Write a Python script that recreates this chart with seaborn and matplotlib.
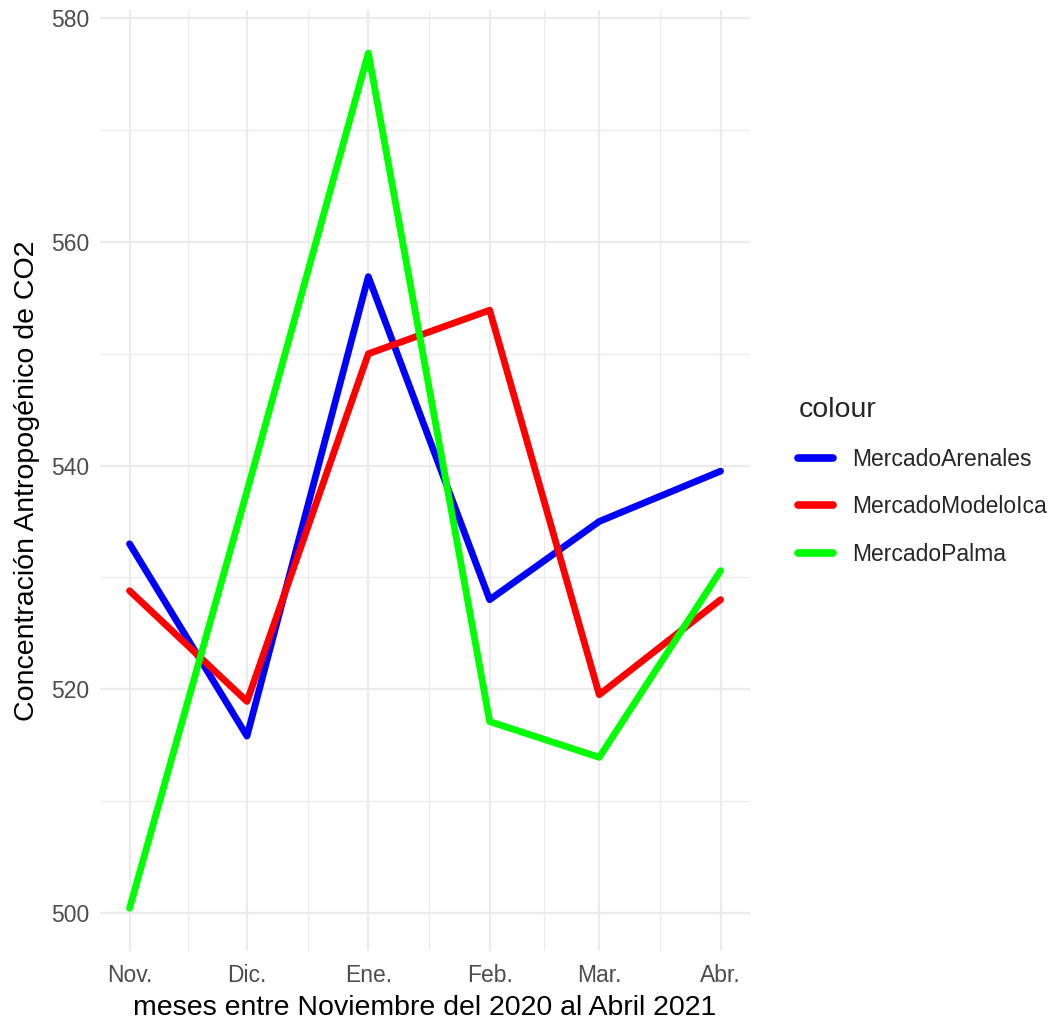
import matplotlib
matplotlib.use("Agg")
import matplotlib.pyplot as plt
import matplotlib.dates as mdates
from matplotlib.ticker import FixedLocator
from matplotlib.lines import Line2D
import seaborn as sns
import pandas as pd
import numpy as np

months = ["2020-11-01", "2020-12-01", "2021-01-01", "2021-02-01", "2021-03-01", "2021-04-01"]
month_labels = ["Nov.", "Dic.", "Ene.", "Feb.", "Mar.", "Abr."]
arenales = [533.0, 515.8, 556.9, 528.0, 535.0, 539.5]
modeloica = [528.8, 518.9, 550.0, 553.9, 519.5, 528.0]
palma = [500.4, 537.7, 576.9, 517.1, 513.9, 530.6]
series_names = ["MercadoArenales", "MercadoModeloIca", "MercadoPalma"]
series_colors = ["#0000FF", "#FF0000", "#00FF00"]

dates = pd.to_datetime(months)
df = pd.DataFrame({
    "fecha": np.concatenate([dates, dates, dates]),
    "valor": arenales + modeloica + palma,
    "colour": np.repeat(series_names, len(months)),
})

sns.set_theme(style="whitegrid")
plt.rcParams["font.family"] = ["Liberation Sans", "DejaVu Sans"]

fig = plt.figure(figsize=(10.64, 10.29), dpi=100)
ax = fig.add_axes([0.094, 0.0758, 0.611, 0.9142])

sns.lineplot(data=df, x="fecha", y="valor", hue="colour", hue_order=series_names,
             palette=dict(zip(series_names, series_colors)), linewidth=4.9, ax=ax,
             legend=False)

xnum = mdates.date2num(dates)
span = xnum[-1] - xnum[0]
ax.set_xlim(xnum[0] - 0.05 * span, xnum[-1] + 0.05 * span)
ymin, ymax = min(palma), max(palma)
yr = ymax - ymin
ax.set_ylim(ymin - 0.05 * yr, ymax + 0.05 * yr)

ax.xaxis.set_major_locator(FixedLocator(xnum))
ax.set_xticklabels(month_labels)
ax.xaxis.set_minor_locator(FixedLocator((xnum[:-1] + xnum[1:]) / 2))
ax.yaxis.set_major_locator(FixedLocator([500, 520, 540, 560, 580]))
ax.yaxis.set_minor_locator(FixedLocator([510, 530, 550, 570]))

ax.set_facecolor("white")
for s in ax.spines.values():
    s.set_visible(False)
ax.grid(which="major", color="#EBEBEB", linewidth=1.6)
ax.grid(which="minor", color="#EBEBEB", linewidth=0.9)
ax.tick_params(which="both", length=0, labelsize=16.5, labelcolor="#4D4D4D")
ax.tick_params(axis="x", pad=9)
ax.tick_params(axis="y", pad=8)

ax.set_xlabel("meses entre Noviembre del 2020 al Abril 2021", fontsize=20.5, color="black", labelpad=6)
ax.set_ylabel("Concentración Antropogénico de CO2", fontsize=20.5, color="black", labelpad=8)

handles = [Line2D([0], [0], color=c, linewidth=5.5) for c in series_colors]
leg = fig.legend(handles, series_names, title="colour", loc="center left",
                 bbox_to_anchor=(0.731, 0.532), frameon=False, fontsize=16.5,
                 title_fontsize=20.5, handlelength=1.5, labelspacing=1.07,
                 handletextpad=0.85)
leg._legend_box.align = "left"

fig.savefig("out.png", dpi=100, facecolor="white")
